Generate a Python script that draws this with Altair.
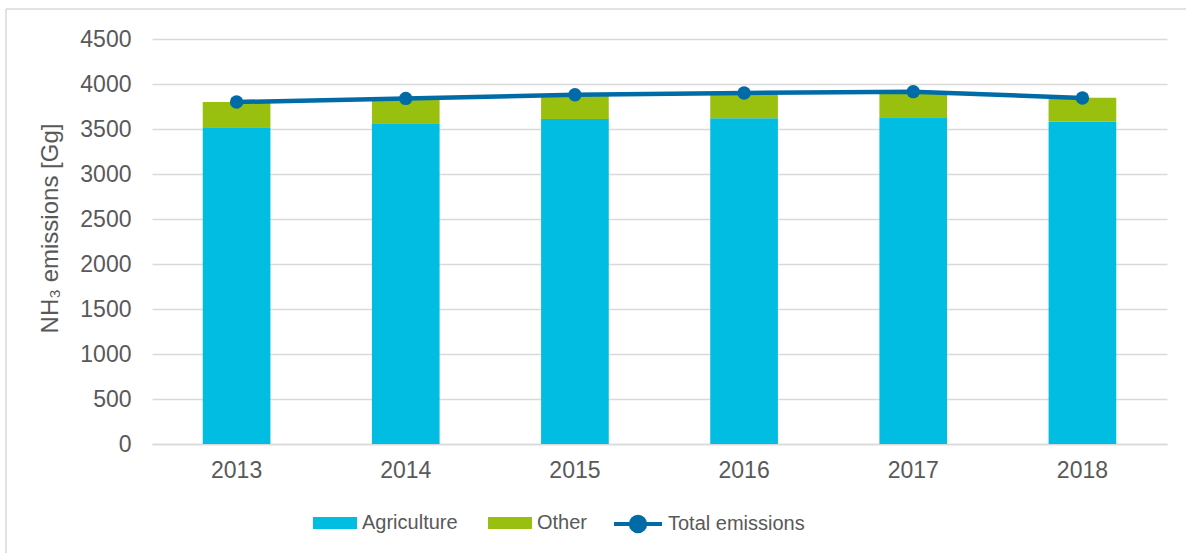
import altair as alt
import pandas as pd

years = ["2013", "2014", "2015", "2016", "2017", "2018"]
agriculture = [3520, 3565, 3610, 3620, 3630, 3580]
other = [280, 270, 268, 275, 282, 268]
total = [3800, 3840, 3880, 3900, 3915, 3845]

categories = ["Agriculture", "Other"]
bar_colors = ["#00BDE1", "#99C00E"]
line_color = "#006BA6"
text_color = "#595959"
grid_color = "#D9D9D9"
font = "Liberation Sans"

rows = []
for i, y in enumerate(years):
    rows.append({"year": y, "category": "Agriculture", "value": agriculture[i], "ord": 0})
    rows.append({"year": y, "category": "Other", "value": other[i], "ord": 1})
bars_df = pd.DataFrame(rows)
line_df = pd.DataFrame({"year": years, "total": total, "series": ["Total emissions"] * len(years)})

x_enc = alt.X(
    "year:N",
    title=None,
    scale=alt.Scale(paddingInner=0.6, paddingOuter=0.3),
    axis=alt.Axis(labelAngle=0, labelFontSize=23, labelColor=text_color, labelFont=font,
                  labelPadding=15, ticks=False, domainColor=grid_color, domainWidth=1.5),
)

bars = alt.Chart(bars_df).mark_bar().encode(
    x=x_enc,
    y=alt.Y(
        "value:Q",
        stack="zero",
        title="NH₃ emissions [Gg]",
        scale=alt.Scale(domain=[0, 4500], nice=False),
        axis=alt.Axis(values=list(range(0, 4501, 500)), format="d", labelFontSize=23,
                      labelColor=text_color,
                      labelFont=font, labelPadding=21, ticks=False, domain=False,
                      gridColor=grid_color, gridWidth=1.5,
                      titleFontSize=24, titleFont=font, titleColor=text_color,
                      titleFontWeight="normal", titleX=-102, titleY=189,
                      titleAngle=270, titleAlign="center", titleBaseline="middle"),
    ),
    fill=alt.Fill(
        "category:N",
        scale=alt.Scale(domain=categories, range=bar_colors),
        legend=alt.Legend(
            title=None, orient="none", legendX=161, legendY=462, direction="horizontal",
            symbolType="M-1,-0.27H1V0.27H-1Z", symbolSize=1936, symbolStrokeWidth=0,
            labelFontSize=20, labelFont=font, labelColor=text_color, labelOffset=5,
            columnPadding=30, padding=0,
        ),
    ),
    order=alt.Order("ord:Q"),
)

line = alt.Chart(line_df).mark_line(strokeWidth=4.5).encode(
    x=alt.X("year:N"),
    y=alt.Y("total:Q"),
    stroke=alt.Stroke(
        "series:N",
        scale=alt.Scale(domain=["Total emissions"], range=[line_color]),
        legend=alt.Legend(
            title=None, orient="none", legendX=460, legendY=459, direction="horizontal",
            symbolType="M-1,0H1M0.3,0A0.3,0.3,0,1,1,-0.3,0A0.3,0.3,0,1,1,0.3,0Z",
            symbolSize=2304, symbolStrokeWidth=4, symbolFillColor=line_color,
            labelFontSize=20, labelFont=font, labelColor=text_color, labelOffset=4,
            padding=0,
        ),
    ),
)

points = alt.Chart(line_df).mark_circle(size=180, opacity=1, color=line_color).encode(
    x=alt.X("year:N"),
    y=alt.Y("total:Q"),
)

border_df = pd.DataFrame({"k": [0]})
top_border = alt.Chart(border_df).mark_rule(color=grid_color, strokeWidth=1.5).encode(
    x=alt.value(-146), x2=alt.value(1040), y=alt.value(-30)
)
left_border = alt.Chart(border_df).mark_rule(color=grid_color, strokeWidth=1.5).encode(
    x=alt.value(-146), y=alt.value(-30), y2=alt.value(520)
)

chart = alt.layer(bars, line, points, top_border, left_border).resolve_scale(
    fill="independent", stroke="independent"
).properties(
    width=1015,
    height=405,
    padding={"left": 152, "top": 39, "right": 19, "bottom": 109},
    autosize=alt.AutoSizeParams(type="none"),
    background="white",
).configure_view(stroke=None)

chart.save("out.html", embed_options={"renderer": "svg", "actions": False})
